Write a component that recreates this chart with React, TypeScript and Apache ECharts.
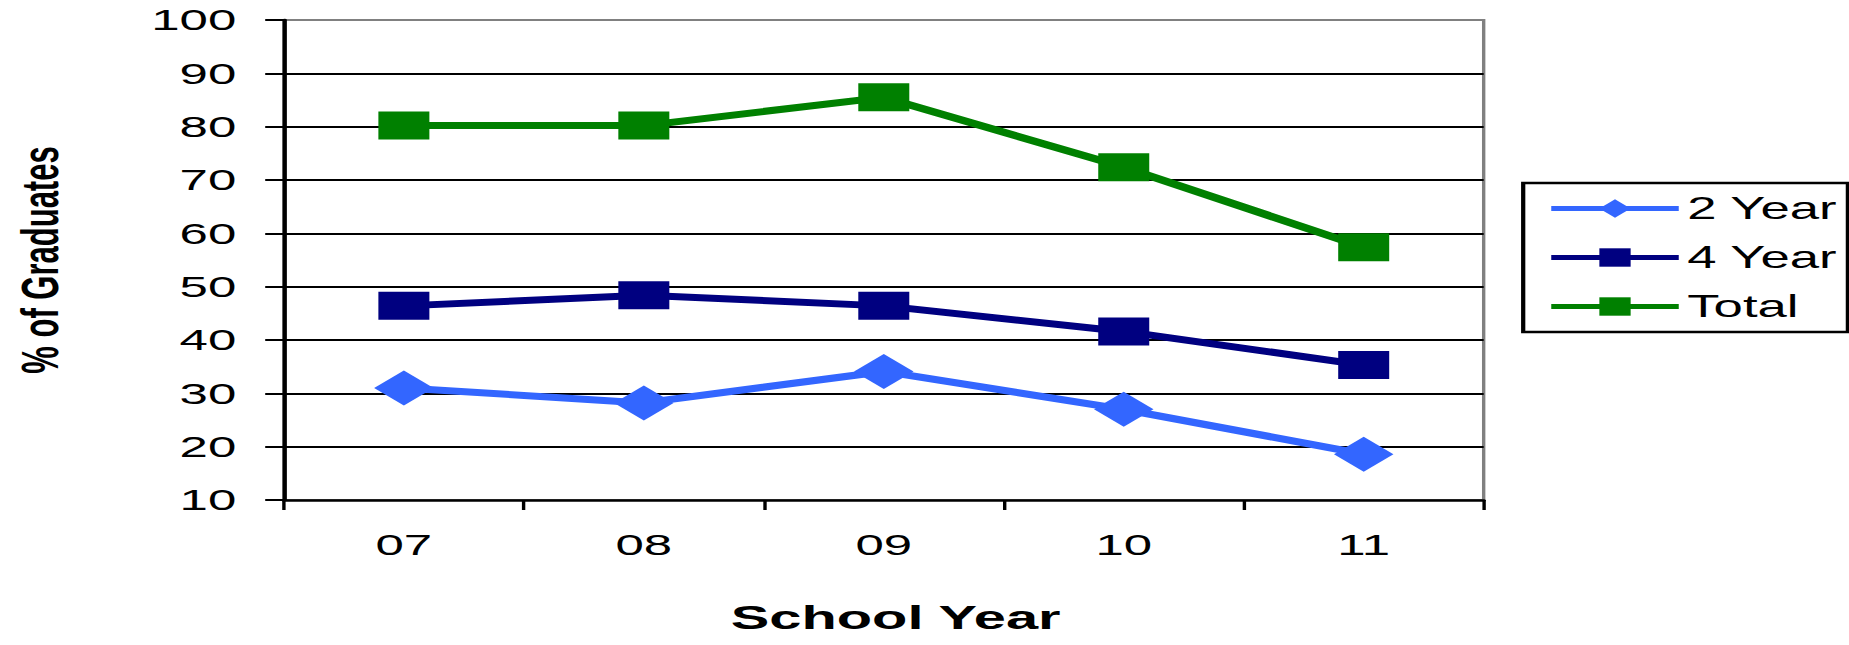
import React, { useEffect, useRef } from "react";
import * as echarts from "echarts";

const categories = ["07", "08", "09", "10", "11"];
const twoYear = [31.0, 28.2, 34.1, 27.0, 18.6];
const fourYear = [46.4, 48.4, 46.4, 41.6, 35.3];
const total = [80.2, 80.2, 85.5, 72.4, 57.4];
const yMin = 10;
const yMax = 100;
const yStep = 10;

const SX = 1.7;
const W = 1849;
const H = 645;
const CW = W / SX;
const FONT = "'Liberation Sans', Arial, sans-serif";

export default function App() {
  const ref = useRef<HTMLDivElement>(null);
  useEffect(() => {
    document.body.style.margin = "0";
    const chart = echarts.init(ref.current!, null, { renderer: "svg" });
    chart.setOption({
      animation: false,
      backgroundColor: "#ffffff",
      textStyle: { fontFamily: FONT },
      grid: {
        left: 164,
        right: CW - 872.4,
        top: 20,
        bottom: 145,
        show: true,
        borderColor: "#808080",
        borderWidth: 2,
        containLabel: false,
      },
      legend: {
        orient: "vertical",
        left: 896,
        top: 183,
        padding: [10, 6, 10, 14],
        borderColor: "#000",
        borderWidth: 2.5,
        itemWidth: 75,
        itemHeight: 23,
        itemGap: 18,
        data: ["2 Year", "4 Year", "Total"],
        textStyle: { fontSize: 31, color: "#000", fontFamily: FONT },
        lineStyle: { width: 5 },
      },
      xAxis: {
        type: "category",
        data: categories,
        boundaryGap: true,
        axisLine: { show: true, lineStyle: { color: "#000", width: 2.5 } },
        axisTick: { show: true, alignWithLabel: false, length: 10, lineStyle: { color: "#000", width: 2 } },
        axisLabel: { fontSize: 30, color: "#000", margin: 30, fontFamily: FONT },
        splitLine: { show: false },
        name: "School Year",
        nameLocation: "middle",
        nameGap: 100,
        nameTextStyle: { fontSize: 34, fontWeight: "bold", color: "#000", fontFamily: FONT, padding: [0, 0, 0, 14] },
      },
      yAxis: {
        type: "value",
        min: yMin,
        max: yMax,
        interval: yStep,
        axisLine: { show: true, lineStyle: { color: "#000", width: 2.5 } },
        axisTick: { show: true, inside: false, length: 11, lineStyle: { color: "#000", width: 2 } },
        axisLabel: { fontSize: 30, color: "#000", margin: 28, fontFamily: FONT },
        splitLine: { show: true, showMaxLine: false, showMinLine: false, lineStyle: { color: "#000", width: 2 } },
        name: "% of Graduates",
        nameLocation: "middle",
        nameGap: 128,
        nameTextStyle: { fontSize: 31, fontWeight: "bold", color: "#000", fontFamily: FONT },
      },
      series: [
        {
          name: "2 Year",
          type: "line",
          data: twoYear,
          symbol: "diamond",
          symbolSize: [35, 35],
          lineStyle: { color: "#3366FF", width: 7 },
          itemStyle: { color: "#3366FF" },
          z: 3,
        },
        {
          name: "4 Year",
          type: "line",
          data: fourYear,
          symbol: "rect",
          symbolSize: [30, 28],
          lineStyle: { color: "#000080", width: 7 },
          itemStyle: { color: "#000080" },
          z: 3,
        },
        {
          name: "Total",
          type: "line",
          data: total,
          symbol: "rect",
          symbolSize: [30, 28],
          lineStyle: { color: "#008000", width: 7 },
          itemStyle: { color: "#008000" },
          z: 3,
        },
      ],
    });
    return () => chart.dispose();
  }, []);
  return (
    <div style={{ width: W, height: H, overflow: "hidden", position: "relative" }}>
      <div
        ref={ref}
        style={{ width: CW, height: H, transform: `scaleX(${SX})`, transformOrigin: "0 0" }}
      />
    </div>
  );
}
